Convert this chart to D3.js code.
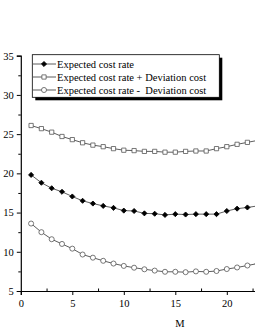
<!DOCTYPE html>
<html>
<head>
  <script src="https://cdnjs.cloudflare.com/ajax/libs/d3/7.8.5/d3.min.js"></script>
  <style>
    body { margin: 0; background: #fff; overflow: hidden; }
    text { font-family: "Liberation Serif", "DejaVu Serif", serif; fill: #000; white-space: pre; }
  </style>
</head>
<body>
  <script>
    // Data
    var M = [1, 2, 3, 4, 5, 6, 7, 8, 9, 10, 11, 12, 13, 14, 15, 16, 17, 18, 19, 20, 21, 22, 23];
    var costRate = [19.8, 18.8, 18.1, 17.65, 17.05, 16.5, 16.15, 15.85, 15.6, 15.25, 15.2, 14.9, 14.85, 14.7, 14.8, 14.75, 14.8, 14.8, 14.8, 15.2, 15.5, 15.65, 15.85];
    var plusDev = [26.1, 25.7, 25.25, 24.7, 24.3, 23.9, 23.6, 23.4, 23.15, 22.95, 22.9, 22.8, 22.8, 22.7, 22.7, 22.8, 22.85, 22.85, 23.15, 23.4, 23.7, 23.95, 24.2];
    var minusDev = [13.6, 12.5, 11.6, 11.0, 10.4, 9.65, 9.25, 8.85, 8.5, 8.2, 7.97, 7.77, 7.6, 7.45, 7.45, 7.4, 7.5, 7.45, 7.55, 7.8, 8.0, 8.25, 8.5];
    var seriesNames = ["Expected cost rate", "Expected cost rate + Deviation cost", "Expected cost rate -  Deviation cost"];
    var yTicks = [5, 10, 15, 20, 25, 30, 35];
    var xTicks = [0, 5, 10, 15, 20];

    var width = 255, height = 330;
    var svg = d3.select("body").append("svg")
      .attr("width", width)
      .attr("height", height);

    // Scales
    var x = d3.scaleLinear().domain([0, 25]).range([20.8, 278.3]);
    var y = d3.scaleLinear().domain([5, 35]).range([291, 55.7]);

    // Y axis
    var yAxis = d3.axisLeft(y).tickValues(yTicks).tickSize(4).tickPadding(3);
    var gy = svg.append("g").attr("transform", "translate(" + x(0) + ",0)").call(yAxis);
    gy.select(".domain").attr("stroke", "#000").attr("stroke-width", 1.2);
    gy.selectAll(".tick line").attr("stroke", "#000").attr("stroke-width", 1);
    gy.selectAll(".tick text").style("font-size", "10.5px");
    var yMinor = d3.axisLeft(y).tickValues(d3.range(7.5, 35, 5)).tickSize(2.5).tickFormat("");
    var gym = svg.append("g").attr("transform", "translate(" + x(0) + ",0)").call(yMinor);
    gym.select(".domain").remove();

    // X axis
    var xAxis = d3.axisBottom(x).tickValues(xTicks).tickSize(4).tickPadding(5);
    var gx = svg.append("g").attr("transform", "translate(0," + y(5) + ")").call(xAxis);
    gx.select(".domain").attr("stroke", "#000").attr("stroke-width", 1.2);
    gx.selectAll(".tick line").attr("stroke", "#000");
    gx.selectAll(".tick text").style("font-size", "10.5px");
    var xMinor = d3.axisTop(x).tickValues(d3.range(2.5, 25, 5)).tickSize(2.5).tickFormat("");
    var gxm = svg.append("g").attr("transform", "translate(0," + y(5) + ")").call(xMinor);
    gxm.select(".domain").remove();

    svg.append("text")
      .attr("x", 180).attr("y", 327)
      .attr("text-anchor", "middle")
      .style("font-size", "10.5px")
      .text("M");

    var line = d3.line()
      .x(function(d, i) { return x(M[i]); })
      .y(function(d) { return y(d); });

    var diamond = d3.symbol().type(d3.symbolSquare).size(13);
    var square = d3.symbol().type(d3.symbolSquare).size(18);
    var circle = d3.symbol().type(d3.symbolCircle).size(20);

    var series = [
      { values: costRate, sym: diamond, rot: 45, fill: "#000", stroke: "#000" },
      { values: plusDev, sym: square, rot: 0, fill: "#fff", stroke: "#555" },
      { values: minusDev, sym: circle, rot: 0, fill: "#fff", stroke: "#555" }
    ];

    series.forEach(function(s) {
      svg.append("path")
        .datum(s.values)
        .attr("fill", "none")
        .attr("stroke", "#333")
        .attr("stroke-width", 0.8)
        .attr("d", line);
      svg.selectAll(null)
        .data(s.values)
        .enter().append("path")
        .attr("transform", function(d, i) { return "translate(" + x(M[i]) + "," + y(d) + ") rotate(" + s.rot + ")"; })
        .attr("d", s.sym())
        .attr("fill", s.fill)
        .attr("stroke", s.stroke)
        .attr("stroke-width", 0.8);
    });

    // Legend with drop shadow
    var lg = svg.append("g");
    lg.append("rect").attr("x", 35.3).attr("y", 57.7).attr("width", 187).attr("height", 42.6).attr("fill", "#000");
    lg.append("rect").attr("x", 32.3).attr("y", 54.7).attr("width", 187).attr("height", 42.6)
      .attr("fill", "#fff").attr("stroke", "#000").attr("stroke-width", 0.8);
    var rowY = [64, 77, 90];
    series.forEach(function(s, i) {
      lg.append("line").attr("x1", 33).attr("x2", 56).attr("y1", rowY[i]).attr("y2", rowY[i])
        .attr("stroke", "#333").attr("stroke-width", 0.8);
      lg.append("path").attr("transform", "translate(44," + rowY[i] + ") rotate(" + s.rot + ")")
        .attr("d", s.sym()).attr("fill", s.fill).attr("stroke", s.stroke).attr("stroke-width", 0.8);
      lg.append("text").attr("x", 57).attr("y", rowY[i] + 3.5)
        .style("font-size", "10.5px")
        .text(seriesNames[i]);
    });
  </script>
</body>
</html>
